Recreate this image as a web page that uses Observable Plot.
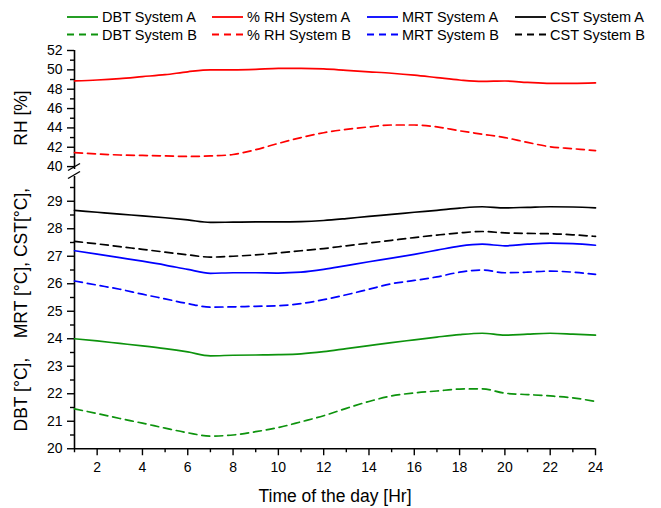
<!DOCTYPE html>
<html><head><meta charset="utf-8">
<script src="https://cdn.jsdelivr.net/npm/d3@7"></script>
<script src="https://cdn.jsdelivr.net/npm/@observablehq/plot@0.6"></script>
<style>
body{margin:0;background:#fff;font-family:"Liberation Sans",Arial,sans-serif;}
#wrap{position:relative;width:661px;height:508px;overflow:hidden;background:#fff;}
#legend{position:absolute;left:0;top:0;}
#top{position:absolute;left:0;top:44px;}
#bot{position:absolute;left:0;top:170px;}
#brk{position:absolute;left:0;top:0;pointer-events:none;}
</style></head><body>
<div id="wrap"><div id="legend"></div><div id="top"></div><div id="bot"></div><svg id="brk" width="661" height="508"></svg></div>
<script>
// ---- data ----
const hours = [1,2,3,4,5,6,7,8,9,10,11,12,13,14,15,16,17,18,19,20,21,22,23,24];
const rhA  = [48.85,48.95,49.1,49.3,49.5,49.8,50.0,50.0,50.05,50.15,50.15,50.1,49.95,49.8,49.65,49.45,49.2,48.95,48.8,48.85,48.7,48.6,48.6,48.65];
const rhB  = [41.45,41.3,41.2,41.15,41.1,41.05,41.1,41.25,41.75,42.4,43.0,43.5,43.85,44.1,44.3,44.3,44.1,43.7,43.35,43.0,42.5,42.05,41.85,41.65];
const cstA = [28.67,28.6,28.53,28.47,28.4,28.32,28.23,28.24,28.25,28.25,28.26,28.3,28.37,28.45,28.52,28.6,28.67,28.75,28.8,28.76,28.78,28.8,28.79,28.76];
const cstB = [27.54,27.45,27.35,27.25,27.15,27.05,26.97,27.0,27.05,27.12,27.2,27.28,27.38,27.48,27.58,27.68,27.77,27.85,27.9,27.85,27.83,27.82,27.78,27.72];
const mrtA = [27.2,27.08,26.95,26.82,26.68,26.52,26.38,26.4,26.4,26.39,26.42,26.52,26.66,26.8,26.93,27.07,27.22,27.37,27.44,27.38,27.44,27.48,27.46,27.4];
const mrtB = [26.1,25.95,25.8,25.62,25.45,25.28,25.15,25.16,25.18,25.2,25.28,25.42,25.6,25.8,26.0,26.12,26.25,26.42,26.5,26.4,26.42,26.46,26.42,26.34];
const dbtA = [24.0,23.92,23.83,23.74,23.64,23.52,23.38,23.4,23.41,23.42,23.45,23.53,23.64,23.75,23.86,23.96,24.06,24.15,24.2,24.13,24.17,24.2,24.17,24.13];
const dbtB = [21.45,21.28,21.1,20.93,20.75,20.58,20.46,20.5,20.62,20.77,20.98,21.2,21.47,21.72,21.92,22.03,22.1,22.17,22.18,22.02,21.97,21.92,21.85,21.72];

const variables = ["DBT", "% RH", "MRT", "CST"];
const systems = ["System A", "System B"];
const varColors = ["#0d930d", "#ff0000", "#0000ff", "#000000"];
const seriesValues = [[dbtA, dbtB], [rhA, rhB], [mrtA, mrtB], [cstA, cstB]];

const xTicksMajor = [2,4,6,8,10,12,14,16,18,20,22,24];
const xTicksMinor = [1,3,5,7,9,11,13,15,17,19,21,23];
const rhTicksMajor = [40,42,44,46,48,50,52];
const rhTicksMinor = [41,43,45,47,49,51];
const tTicksMajor = [20,21,22,23,24,25,26,27,28,29];
const tTicksMinor = [20.5,21.5,22.5,23.5,24.5,25.5,26.5,27.5,28.5,29.5];

const xTitle = "Time of the day [Hr]";
const rhTitle = "RH [%]";
const tTitle = "DBT [°C], \u00a0\u00a0\u00a0MRT [°C], CST[°C],";

// ---- layout ----
const W = 661, ML = 74, MR = 66;
const font = "'Liberation Sans', Arial, Helvetica, sans-serif";
const DASH = "8,5";
const style = {fontFamily: font, fontSize: "14px", color: "#000", background: "transparent", overflow: "visible"};

function seriesMarks(varIdx) {
  return [0, 1].map(s => Plot.line(hours, {
    x: d => d,
    y: (d, i) => seriesValues[varIdx][s][i],
    stroke: varColors[varIdx],
    strokeWidth: 1.7,
    strokeDasharray: s === 1 ? DASH : null,
    curve: "monotone-x"
  }));
}

// Top panel (RH)
const topPlot = Plot.plot({
  width: W, height: 125,
  marginLeft: ML, marginRight: MR, marginTop: 6, marginBottom: 0,
  style,
  x: {domain: [1, 24], axis: null},
  y: {domain: [39.7, 52]},
  marks: [
    Plot.ruleX([1], {stroke: "#000", strokeWidth: 1.6}),
    Plot.axisY({ticks: rhTicksMajor, tickSize: 7, tickPadding: 5, label: null, fontSize: 14, strokeWidth: 1.4}),
    Plot.axisY({ticks: rhTicksMinor, tickSize: 4, tickFormat: () => "", label: null, strokeWidth: 1.4}),
    ...seriesMarks(1),
    Plot.text([rhTitle], {text: d => d, frameAnchor: "left", textAnchor: "middle", lineAnchor: "middle", rotate: -90, dx: -53, dy: 8, fontSize: 17.5, fill: "#000"})
  ]
});
document.getElementById("top").append(topPlot);

// Bottom panel (temperatures)
const botPlot = Plot.plot({
  width: W, height: 338,
  marginLeft: ML, marginRight: MR, marginTop: 6, marginBottom: 59.75,
  style,
  x: {domain: [1, 24]},
  y: {domain: [20, 29.9]},
  marks: [
    Plot.ruleX([1], {stroke: "#000", strokeWidth: 1.6}),
    Plot.ruleY([20], {stroke: "#000", strokeWidth: 1.6}),
    Plot.axisY({ticks: tTicksMajor, tickSize: 7, tickPadding: 5, label: null, fontSize: 14, strokeWidth: 1.4}),
    Plot.axisY({ticks: tTicksMinor, tickSize: 4, tickFormat: () => "", label: null, strokeWidth: 1.4}),
    Plot.axisX({ticks: xTicksMajor, tickSize: 7, tickPadding: 6, label: null, fontSize: 14, strokeWidth: 1.4}),
    Plot.axisX({ticks: xTicksMinor, tickSize: 4, tickFormat: () => "", label: null, strokeWidth: 1.4}),
    ...seriesMarks(3),
    ...seriesMarks(2),
    ...seriesMarks(0),
    Plot.text([tTitle], {text: d => d, frameAnchor: "left", textAnchor: "middle", lineAnchor: "middle", rotate: -90, dx: -53, dy: -3, fontSize: 17.5, fill: "#000"}),
    Plot.text([xTitle], {text: d => d, frameAnchor: "bottom", textAnchor: "middle", lineAnchor: "middle", dy: 48, fontSize: 17.5, fill: "#000"})
  ]
});
document.getElementById("bot").append(botPlot);

// Axis break marks
const brk = d3.select("#brk");
[167, 175].forEach(cy => {
  brk.append("line").attr("x1", ML - 6).attr("y1", cy + 3.5).attr("x2", ML + 6).attr("y2", cy - 3.5)
    .attr("stroke", "#000").attr("stroke-width", 1.4);
});

// Legend
const legendLineX = [67, 212, 367, 515];
const legendRowY = [17, 34.5];
const leg = d3.select("#legend").append("svg").attr("width", W).attr("height", 44)
  .style("font-family", font).style("font-size", "14.5px");
variables.forEach((v, c) => {
  systems.forEach((s, r) => {
    const g = leg.append("g").attr("transform", `translate(${legendLineX[c]},${legendRowY[r]})`);
    g.append("line").attr("x1", 0).attr("x2", 31).attr("y1", 0).attr("y2", 0)
      .attr("stroke", varColors[c]).attr("stroke-width", 1.8)
      .attr("stroke-dasharray", r === 1 ? "7,5" : null);
    g.append("text").attr("x", 35).attr("y", 0).attr("dy", "0.35em").attr("fill", "#000")
      .text(`${v} ${s}`);
  });
});
</script>
</body></html>
